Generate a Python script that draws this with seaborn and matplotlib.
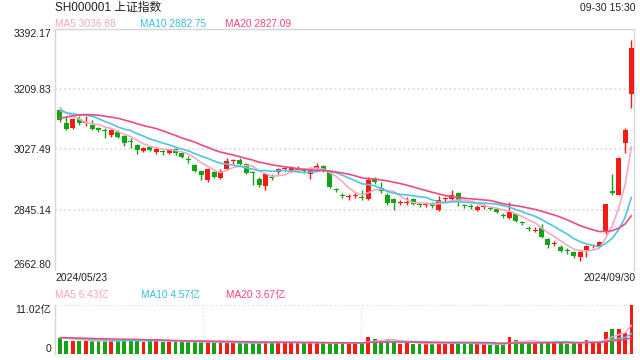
import matplotlib
matplotlib.use("Agg")
import matplotlib.pyplot as plt
import numpy as np
import pandas as pd
import seaborn as sns

# ─────────────────────────────────────────────────────────────────────────────
# Data
# ─────────────────────────────────────────────────────────────────────────────

TITLE = "SH000001 上证指数"
TIMESTAMP = "09-30 15:30"
FIRST_DATE = "2024/05/23"
LAST_DATE = "2024/09/30"

opens = [3148, 3108, 3094, 3121, 3108, 3102, 3093, 3085, 3072, 3081,
         3069, 3052, 3042, 3024, 3036, 3021, 3022, 3018, 3030, 3018,
         2999, 2981, 2963, 2936, 2960, 2942, 2969, 2992, 2997, 2985,
         2959, 2939, 2918, 2945, 2960, 2968, 2963, 2963, 2969, 2954,
         2967, 2979, 2961, 2908, 2890, 2884, 2888, 2884, 2879, 2939,
         2912, 2891, 2879, 2866, 2865, 2879, 2862, 2859, 2867, 2845,
         2877, 2879, 2897, 2859, 2856, 2845, 2852, 2851, 2848, 2829,
         2821, 2833, 2807, 2789, 2782, 2790, 2757, 2743, 2733, 2722,
         2718, 2703, 2724, 2734, 2733, 2779, 2903, 2891, 3048, 3195]
highs = [3155, 3128, 3124, 3130, 3129, 3118, 3095, 3093, 3089, 3085,
         3071, 3063, 3044, 3036, 3038, 3033, 3027, 3030, 3033, 3021,
         3009, 2985, 2966, 2972, 2963, 2968, 3003, 3000, 3003, 2988,
         2962, 2945, 2957, 2954, 2972, 2976, 2979, 2979, 2972, 2975,
         2988, 2982, 2964, 2912, 2897, 2894, 2897, 2906, 2945, 2945,
         2930, 2895, 2882, 2875, 2885, 2882, 2867, 2870, 2870, 2888,
         2885, 2906, 2900, 2864, 2862, 2860, 2862, 2856, 2851, 2835,
         2870, 2836, 2812, 2795, 2792, 2803, 2760, 2752, 2738, 2728,
         2721, 2720, 2738, 2742, 2750, 2864, 2952, 3004, 3092, 3358]
lows = [3112, 3087, 3090, 3102, 3099, 3085, 3080, 3063, 3066, 3063,
        3039, 3033, 3015, 3021, 3024, 3015, 3010, 3015, 3012, 3002,
        2988, 2960, 2936, 2930, 2940, 2938, 2965, 2985, 2980, 2954,
        2921, 2915, 2906, 2936, 2954, 2962, 2958, 2958, 2957, 2939,
        2963, 2958, 2912, 2898, 2880, 2876, 2882, 2875, 2876, 2924,
        2897, 2860, 2845, 2860, 2860, 2860, 2853, 2853, 2850, 2840,
        2870, 2875, 2857, 2850, 2847, 2840, 2848, 2843, 2834, 2820,
        2818, 2809, 2798, 2781, 2778, 2760, 2730, 2735, 2716, 2712,
        2699, 2689, 2703, 2728, 2728, 2773, 2891, 2889, 3017, 3154]
closes = [3118, 3090, 3121, 3109, 3112, 3090, 3085, 3082, 3087, 3066,
          3048, 3050, 3027, 3033, 3027, 3030, 3020, 3027, 3018, 3006,
          2997, 2963, 2951, 2969, 2945, 2963, 2994, 2995, 2985, 2957,
          2957, 2921, 2954, 2942, 2967, 2970, 2972, 2972, 2961, 2972,
          2979, 2961, 2915, 2905, 2888, 2887, 2891, 2880, 2936, 2930,
          2903, 2867, 2867, 2868, 2869, 2864, 2859, 2862, 2855, 2876,
          2880, 2891, 2870, 2857, 2854, 2854, 2855, 2848, 2839, 2827,
          2839, 2812, 2805, 2787, 2785, 2763, 2739, 2746, 2721, 2720,
          2704, 2717, 2736, 2737, 2748, 2863, 2897, 3001, 3088, 3336]
# volume in 亿
volumes = [3.6, 3.0, 3.0, 3.0, 2.9, 2.9, 2.9, 3.0, 3.0, 3.0,
           3.4, 3.0, 3.0, 2.8, 3.0, 3.3, 2.8, 2.7, 2.7, 2.8,
           2.8, 2.7, 2.6, 2.7, 2.6, 2.6, 2.6, 2.4, 2.5, 2.4,
           2.5, 2.6, 2.8, 2.6, 2.6, 2.7, 2.6, 2.5, 2.4, 2.6,
           2.6, 2.4, 2.5, 2.4, 2.5, 2.4, 2.5, 2.4, 3.9, 3.3,
           2.9, 3.3, 2.9, 2.3, 2.4, 2.3, 2.2, 2.3, 2.5, 2.6,
           2.4, 2.5, 2.4, 2.4, 2.3, 2.2, 2.2, 2.1, 2.1, 2.3,
           3.9, 3.1, 2.7, 2.6, 2.5, 2.7, 2.6, 2.6, 2.7, 2.3,
           2.5, 2.6, 3.1, 2.7, 2.65, 4.9, 5.7, 5.7, 4.83, 11.02]

# sessions before 05/23, only used to warm up the moving averages
prior_closes = [3021, 3044, 3052, 3088, 3114, 3105, 3141, 3147, 3128, 3154,
                3155, 3148, 3145, 3120, 3122, 3154, 3171, 3157, 3158]
prior_volumes = [3.9, 3.5, 3.8, 3.6, 4.0, 3.7, 3.4, 3.9, 3.6, 3.8,
                 3.5, 3.7, 3.9, 3.6, 3.8, 3.5, 3.6, 3.7, 3.8]

price_ticks = [2662.80, 2845.14, 3027.49, 3209.83, 3392.17]
vol_max = 11.02

ma_windows = [5, 10, 20]
price_ma_values = ["3036.88", "2882.75", "2827.09"]
vol_ma_values = ["6.43亿", "4.57亿", "3.67亿"]

RED = "#f41b14"
GREEN = "#13a313"
MA_COLORS = ["#f7a9c4", "#4cc6e3", "#ee4a82"]
MA_TEXT_COLORS = ["#f6a3c0", "#3bbde0", "#ef427e"]
GRID = "#e2e2e2"
FRAME = "#d6d6d6"

# ─────────────────────────────────────────────────────────────────────────────
# Frame
# ─────────────────────────────────────────────────────────────────────────────

sns.set_theme(style="white")
plt.rcParams["font.family"] = ["Liberation Sans", "Noto Sans CJK SC", "DejaVu Sans"]

df = pd.DataFrame({"open": opens, "high": highs, "low": lows,
                   "close": closes, "volume": volumes})
df["idx"] = np.arange(len(df))
df["up"] = df["close"] >= df["open"]
colors = np.where(df["up"], RED, GREEN)

all_close = pd.Series(prior_closes + closes)
all_vol = pd.Series(prior_volumes + volumes)
n_prior = len(prior_closes)
for w in ma_windows:
    df[f"ma{w}"] = all_close.rolling(w).mean().iloc[n_prior:].to_numpy()
    df[f"vma{w}"] = all_vol.rolling(w).mean().iloc[n_prior:].to_numpy()

W, H = 640, 360
fig = plt.figure(figsize=(6.4, 3.6), dpi=100)
ax = fig.add_axes([54.5 / W, 1 - 270 / H, 579.5 / W, 241 / H])
axv = fig.add_axes([54.5 / W, 1 - 354 / H, 579.5 / W, 49 / H])

xlim = (-0.85, len(df) - 0.6)

# ─────────────────────────────────────────────────────────────────────────────
# Price panel
# ─────────────────────────────────────────────────────────────────────────────

for v in price_ticks[1:-1]:
    ax.axhline(v, color=GRID, lw=1.5, ls=(0, (1, 1.2)), zorder=0)

body_low = np.minimum(df["open"], df["close"])
body_h = np.maximum((df["open"] - df["close"]).abs(), 3)
ax.vlines(df["idx"], df["low"], df["high"], colors=colors, lw=1, zorder=2)
ax.bar(df["idx"], body_h, bottom=body_low, width=0.78, color=colors,
       linewidth=0, zorder=3)

for w, c in zip(ma_windows, MA_COLORS):
    sns.lineplot(data=df, x="idx", y=f"ma{w}", ax=ax, color=c, lw=1.2, zorder=4)

ax.set_xlim(*xlim)
ax.set_ylim(price_ticks[0], price_ticks[-1])
ax.set_xticks([])
ax.set_yticks(price_ticks)
ax.set_yticklabels([f"{v:.2f}" for v in price_ticks])
ax.tick_params(axis="y", length=0, pad=2.5, labelsize=7.5, labelcolor="#222222")
labels = ax.get_yticklabels()
labels[0].set_va("bottom")
labels[-1].set_va("top")
ax.set_xlabel("")
ax.set_ylabel("")
for side in ["left", "top", "right"]:
    ax.spines[side].set_color(FRAME)
    ax.spines[side].set_linewidth(1)
ax.spines["bottom"].set_visible(False)

# ─────────────────────────────────────────────────────────────────────────────
# Volume panel
# ─────────────────────────────────────────────────────────────────────────────

axv.axhline(0, color=GRID, lw=1.5, ls=(0, (1, 1.2)), zorder=0)
axv.axhline(vol_max, color=GRID, lw=1.5, ls=(0, (1, 1.2)), zorder=0)
for fx in [0.256, 0.529, 1.0]:
    axv.axvline(fx * (xlim[1] - xlim[0]) + xlim[0], color=GRID, lw=1,
                ls=(0, (1, 1.5)), zorder=0)

axv.bar(df["idx"], df["volume"], width=0.6, color=colors, linewidth=0, zorder=2)
for w, c in zip(ma_windows, MA_COLORS):
    sns.lineplot(data=df, x="idx", y=f"vma{w}", ax=axv, color=c, lw=1.1, zorder=3)

axv.set_xlim(*xlim)
axv.set_ylim(0, vol_max)
axv.set_xticks([])
axv.set_yticks([0, vol_max])
axv.set_yticklabels(["0", f"{vol_max:.2f}亿"])
axv.tick_params(axis="y", length=0, pad=2.5, labelsize=7.5, labelcolor="#222222")
vl = axv.get_yticklabels()
vl[0].set_va("bottom")
vl[1].set_va("top")
axv.set_xlabel("")
axv.set_ylabel("")
for side in ["top", "right", "bottom"]:
    axv.spines[side].set_visible(False)
axv.spines["left"].set_color(FRAME)
axv.spines["left"].set_linewidth(1)

# ─────────────────────────────────────────────────────────────────────────────
# Texts
# ─────────────────────────────────────────────────────────────────────────────

fig.text(55 / W, 1 - 7.5 / H, TITLE, fontsize=8.5, color="#222222", va="center")
fig.text(635 / W, 1 - 8 / H, TIMESTAMP, fontsize=7.5, color="#222222",
         va="center", ha="right")

for x0, w, val, c in zip([55, 140, 225], ma_windows, price_ma_values, MA_TEXT_COLORS):
    fig.text(x0 / W, 1 - 24 / H, f"MA{w} {val}", fontsize=7.3, color=c, va="center")
for x0, w, val, c in zip([55, 141, 226], ma_windows, vol_ma_values, MA_TEXT_COLORS):
    fig.text(x0 / W, 1 - 295 / H, f"MA{w} {val}", fontsize=7.3, color=c, va="center")

fig.text(55 / W, 1 - 278 / H, FIRST_DATE, fontsize=7.5, color="#222222", va="center")
fig.text(636 / W, 1 - 278 / H, LAST_DATE, fontsize=7.5, color="#222222",
         va="center", ha="right")

fig.savefig("out.png", dpi=100)
